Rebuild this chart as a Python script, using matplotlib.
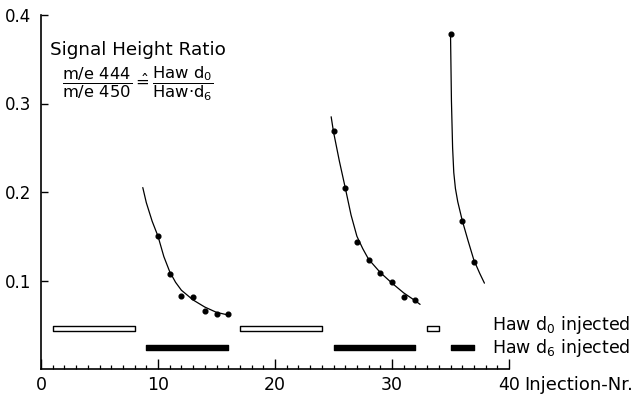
import matplotlib
matplotlib.use("Agg")
import matplotlib.pyplot as plt
from matplotlib.ticker import MultipleLocator

plt.rcParams['font.family'] = ['DejaVu Sans']
plt.rcParams['mathtext.fontset'] = 'dejavusans'

# ---- data ----
s1_x = [10, 11, 12, 13, 14, 15, 16]
s1_y = [0.150, 0.107, 0.082, 0.081, 0.065, 0.062, 0.062]
s2_x = [25, 26, 27, 28, 29, 30, 31, 32]
s2_y = [0.269, 0.205, 0.144, 0.123, 0.109, 0.098, 0.081, 0.078]
s3_x = [35, 36, 37]
s3_y = [0.379, 0.167, 0.121]

# fitted curves
c1_x = [8.7, 9.0, 9.5, 10.0, 10.5, 11.0, 11.5, 12.0, 13.0, 14.0, 15.0, 16.0]
c1_y = [0.205, 0.188, 0.167, 0.150, 0.127, 0.110, 0.098, 0.089, 0.078, 0.070, 0.064, 0.061]
c2_x = [24.8, 25.0, 25.5, 26.0, 26.5, 27.0, 27.5, 28.0, 29.0, 30.0, 31.0, 32.0, 32.4]
c2_y = [0.285, 0.268, 0.235, 0.205, 0.174, 0.150, 0.136, 0.124, 0.109, 0.097, 0.086, 0.077, 0.073]
c3_x = [35.0, 35.08, 35.18, 35.28, 35.42, 35.62, 36.0, 36.5, 37.0, 37.5, 37.9]
c3_y = [0.380, 0.303, 0.250, 0.222, 0.204, 0.189, 0.168, 0.145, 0.123, 0.108, 0.097]

# injection periods (start, length)
d0_periods = [(1, 7), (17, 7), (33, 1)]
d6_periods = [(9, 7), (25, 7), (35, 2)]
d0_level = 0.046
d6_level = 0.024

x_ticks = [0, 10, 20, 30, 40]
x_ticklabels = ['0', '10', '20', '30', '40']
y_ticks = [0.1, 0.2, 0.3, 0.4]
y_ticklabels = ['0.1', '0.2', '0.3', '0.4']

# ---- figure ----
fig = plt.figure(figsize=(6.44, 3.94), dpi=100)
ax = fig.add_axes([41/644, 25/394, 468/644, 354/394])

for cx, cy in [(c1_x, c1_y), (c2_x, c2_y), (c3_x, c3_y)]:
    ax.plot(cx, cy, color='black', lw=0.9, solid_capstyle='round')
for sx, sy in [(s1_x, s1_y), (s2_x, s2_y), (s3_x, s3_y)]:
    ax.plot(sx, sy, 'o', color='black', ms=3.4, mec='black')

bh = 0.0058
ax.broken_barh(d0_periods, (d0_level - bh/2, bh), facecolors='white',
               edgecolors='black', linewidth=1.0)
ax.broken_barh(d6_periods, (d6_level - bh/2, bh), facecolors='black',
               edgecolors='black', linewidth=1.0)

ax.text(38.55, 0.0445, r'Haw d$_0$ injected', fontsize=12.5, va='baseline', ha='left')
ax.text(38.55, 0.0185, r'Haw d$_6$ injected', fontsize=12.5, va='baseline', ha='left')

ax.text(0.75, 0.360, 'Signal Height Ratio', fontsize=13.2, va='center', ha='left')
ax.text(1.8, 0.322,
        r'$\dfrac{\mathrm{m/e\ 444}}{\mathrm{m/e\ 450}}\hat{=}\dfrac{\mathrm{Haw\ d_0}}{\mathrm{Haw{\cdot}d_6}}$',
        fontsize=11.8, va='center', ha='left')

ax.set_xlim(0, 40)
ax.set_ylim(0, 0.4)
ax.spines['top'].set_visible(False)
ax.spines['right'].set_visible(False)
for s in ['left', 'bottom']:
    ax.spines[s].set_linewidth(1.2)

ax.set_xticks(x_ticks)
ax.set_xticklabels(x_ticklabels)
ax.xaxis.set_minor_locator(MultipleLocator(1))
ax.set_yticks(y_ticks)
ax.set_yticklabels(y_ticklabels)
ax.tick_params(axis='x', which='major', direction='in', length=7, width=1.0,
               labelsize=12.5, pad=5)
ax.tick_params(axis='x', which='minor', direction='in', length=3, width=0.9)
ax.tick_params(axis='y', which='major', direction='in', length=5, width=1.0,
               labelsize=12, pad=7)

ax.annotate('Injection-Nr.', xy=(41.3, 0), xycoords=('data', 'axes fraction'),
            xytext=(0, -5), textcoords='offset points', va='top', ha='left',
            fontsize=13, annotation_clip=False)

fig.savefig('out.png', dpi=100)
